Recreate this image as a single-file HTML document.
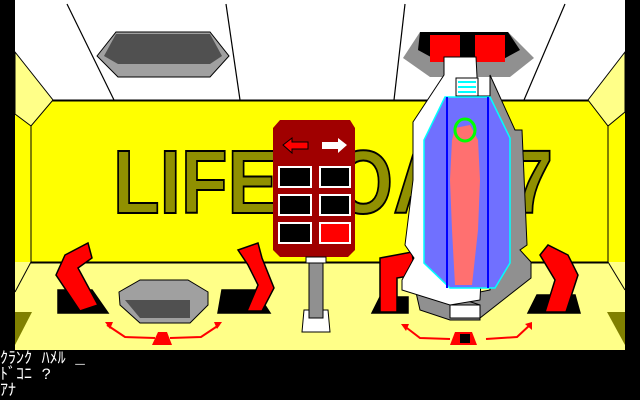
<!DOCTYPE html>
<html><head><meta charset="utf-8"><style>
html,body{margin:0;padding:0;background:#000;width:640px;height:400px;overflow:hidden}
svg{display:block}
.t{position:absolute;left:0;color:#fff;font-family:"Liberation Mono","Noto Sans CJK JP",monospace;font-size:16px;line-height:16px;white-space:pre}
</style></head><body>
<svg width="640" height="400" viewBox="0 0 640 400" xmlns="http://www.w3.org/2000/svg">
<rect width="640" height="400" fill="#000"/>
<rect x="15" y="0" width="610" height="101" fill="#fff"/>
<rect x="15" y="100" width="610" height="163" fill="#ffff00"/>
<line x1="15" y1="100.5" x2="625" y2="100.5" stroke="#000" stroke-width="2"/>
<rect x="15" y="262" width="610" height="88" fill="#ffff88"/>
<line x1="31" y1="262.5" x2="608" y2="262.5" stroke="#000" stroke-width="2"/>
<line x1="31" y1="126" x2="31" y2="262" stroke="#000"/>
<line x1="608" y1="126" x2="608" y2="262" stroke="#000"/>
<line x1="31" y1="262" x2="15" y2="292" stroke="#000"/>
<line x1="608" y1="262" x2="625" y2="290" stroke="#000"/>
<polygon points="15,312 32,312 15,345" fill="#808000"/>
<polygon points="625,312 607,312 625,345" fill="#808000"/>
<g stroke="#000" stroke-width="1.2">
<line x1="67" y1="4" x2="114" y2="100"/><line x1="226" y1="4" x2="240" y2="100"/>
<line x1="405" y1="4" x2="394" y2="100"/><line x1="565" y1="4" x2="524" y2="100"/>
</g>
<polygon points="15,52 53,100 31,126 15,114" fill="#ffff88" stroke="#000"/>
<polygon points="625,52 588,100 608,126 625,112" fill="#ffff88" stroke="#000"/>
<polygon points="97,56 116,32 210,32 229,56 210,77 118,77" fill="#a0a0a0" stroke="#000"/>
<polygon points="104,56 116,34 210,34 222,56 210,64 118,64" fill="#505050"/>
<text x="113" y="213" font-family="Liberation Sans,sans-serif" font-weight="bold" font-size="90" textLength="440" lengthAdjust="spacingAndGlyphs" fill="#909000" stroke="#000" stroke-width="2">LIFEBOAT 7</text>
<path d="M280,120 H350 L355,128 V250 L348,257 H280 L273,250 V128 Z" fill="#a00000"/>
<polygon points="283,145 292,138 292,142 308,142 308,149 292,149 292,153" fill="#ff0000" stroke="#000"/>
<polygon points="347,145 338,138 338,142 322,142 322,149 338,149 338,153" fill="#fff"/>
<g stroke="#fff" stroke-width="2" fill="#000">
<rect x="279" y="167" width="32" height="20"/><rect x="320" y="167" width="30" height="20"/>
<rect x="279" y="195" width="32" height="20"/><rect x="320" y="195" width="30" height="20"/>
<rect x="279" y="223" width="32" height="20"/><rect x="320" y="223" width="30" height="20" fill="#ff0000"/>
</g>
<rect x="306" y="257" width="20" height="6" fill="#fff" stroke="#000"/>
<rect x="309" y="263" width="14" height="55" fill="#909090" stroke="#000"/>
<polygon points="304,310 309,310 309,318 323,318 323,310 328,310 330,332 302,332" fill="#fff" stroke="#000"/>
<polygon points="119,292 140,280 188,280 208,292 208,305 190,323 140,323 120,305" fill="#a0a0a0" stroke="#000"/>
<polygon points="125,300 190,300 190,318 140,318" fill="#505050"/>
<g fill="#ff0000" stroke="#000" stroke-width="1.5">
<polygon points="58,290 92,290 108,313 58,313" fill="#000"/>
<polygon points="65,255 88,243 92,258 78,268 98,305 80,311 56,275"/>
<polygon points="222,290 255,290 270,313 218,313" fill="#000"/>
<polygon points="238,250 258,243 262,258 274,288 262,311 247,311 258,285 248,265"/>
<polygon points="380,297 408,297 408,313 372,313" fill="#000"/>
<polygon points="380,258 412,252 415,275 397,278 397,312 380,312"/>
<polygon points="537,295 575,295 580,313 528,313" fill="#000"/>
<polygon points="540,255 548,245 568,255 578,275 566,312 545,312 555,280"/>
</g>
<g stroke="#ff0000" stroke-width="2" fill="none">
<polyline points="107,325 125,337 155,338"/><polyline points="219,325 201,337 170,338"/>
<polyline points="403,325 420,338 450,339"/><polyline points="531,324 517,337 486,339"/>
</g>
<g fill="#ff0000">
<polygon points="105,322 113,322 110,329"/><polygon points="222,322 214,322 217,329"/>
<polygon points="401,324 409,324 406,331"/><polygon points="532,322 532,330 525,324"/>
<polygon points="158,332 167,332 172,345 152,345"/><polygon points="455,332 472,332 477,345 450,345"/>
</g>
<rect x="460" y="334" width="10" height="9" fill="#000"/>
<polygon points="420,32 508,32 534,58 510,77 430,77 403,58" fill="#909090"/>
<polygon points="420,32 508,32 520,50 498,62 440,62 418,50" fill="#000"/>
<rect x="430" y="35" width="30" height="27" fill="#ff0000"/><rect x="475" y="35" width="30" height="27" fill="#ff0000"/>
<polygon points="490,75 515,130 522,130 527,245 520,250 531,262 531,278 480,318 447,318 440,300 490,290" fill="#909090" stroke="#000"/>
<polygon points="415,288 450,295 480,305 480,320 450,320 420,310" fill="#909090" stroke="#000"/>
<polygon points="444,57 476,57 478,96 490,96 480,300 450,305 402,290 402,280 414,258 405,245 413,180 413,122 444,75" fill="#fff" stroke="#000"/>
<rect x="450" y="305" width="30" height="13" fill="#fff" stroke="#000"/>
<rect x="456" y="78" width="22" height="18" fill="#fff" stroke="#000"/>
<g stroke="#00ffff" stroke-width="2"><line x1="458" y1="82" x2="476" y2="82"/><line x1="458" y1="87" x2="476" y2="87"/><line x1="458" y1="92" x2="476" y2="92"/></g>
<polygon points="445,97 490,97 510,138 510,263 495,288 450,288 424,263 424,140" fill="#7070ff" stroke="#00ffff" stroke-width="1.5"/>
<line x1="447" y1="97" x2="447" y2="288" stroke="#0000ff" stroke-width="2"/>
<line x1="488" y1="97" x2="488" y2="288" stroke="#0000ff" stroke-width="2"/>
<polygon points="455,128 470,125 478,140 480,180 478,230 472,285 455,285 452,230 450,180 452,140" fill="#ff7070"/>
<ellipse cx="465" cy="130" rx="10" ry="11" fill="none" stroke="#00ff00" stroke-width="3"/>
</svg>
<div class="t" style="top:351px">ｸﾗﾝｸ ﾊﾒﾙ _</div>
<div class="t" style="top:367px">ﾄﾞｺﾆ ?</div>
<div class="t" style="top:383px">ｱﾅ</div>
</body></html>
